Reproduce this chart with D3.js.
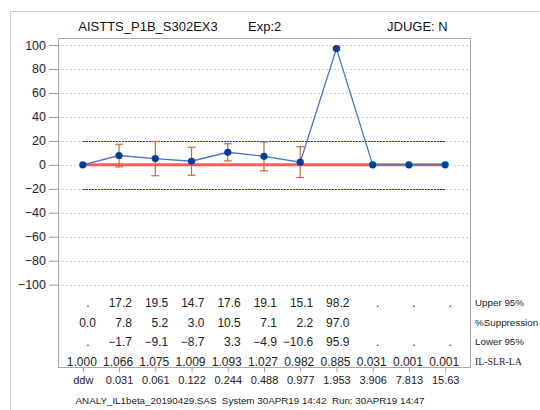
<!DOCTYPE html>
<html>
<head>
<meta charset="utf-8">
<script src="https://cdn.jsdelivr.net/npm/d3@7"></script>
<style>
  html, body { margin: 0; padding: 0; background: #fff; }
  svg { display: block; font-family: "Liberation Sans", Arial, sans-serif; }
</style>
</head>
<body>
<svg id="chart" width="540" height="410"></svg>
<script>
// categories along the x axis
const doses = ["ddw", "0.031", "0.061", "0.122", "0.244", "0.488", "0.977", "1.953", "3.906", "7.813", "15.63"];
// plotted %suppression (last three drawn on the zero line)
const suppression = [0.0, 7.8, 5.2, 3.0, 10.5, 7.1, 2.2, 97.0, 0, 0, 0];
const upper95 = [null, 17.2, 19.5, 14.7, 17.6, 19.1, 15.1, 98.2, null, null, null];
const lower95 = [null, -1.7, -9.1, -8.7, 3.3, -4.9, -10.6, 95.9, null, null, null];
// table rows as printed
const upperTxt = [".", "17.2", "19.5", "14.7", "17.6", "19.1", "15.1", "98.2", ".", ".", "."];
const suppTxt = ["0.0", "7.8", "5.2", "3.0", "10.5", "7.1", "2.2", "97.0", "", "", ""];
const lowerTxt = [".", "−1.7", "−9.1", "−8.7", "3.3", "−4.9", "−10.6", "95.9", ".", ".", "."];
const ratioTxt = ["1.000", "1.066", "1.075", "1.009", "1.093", "1.027", "0.982", "0.885", "0.031", "0.001", "0.001"];
const rowLabels = ["Upper 95%", "%Suppression", "Lower 95%", "IL-SLR-LA"];
const yTicks = [100, 80, 60, 40, 20, 0, -20, -40, -60, -80, -100];
const refLimit = 20;

const svg = d3.select("#chart");
const plot = { left: 58, right: 470, top: 38, bottom: 367 };

// outer frame (only left/top visible)
svg.append("line").attr("x1", 10.5).attr("x2", 540).attr("y1", 11.5).attr("y2", 11.5)
  .attr("stroke", "#d0d0d0");
svg.append("line").attr("x1", 10.5).attr("x2", 10.5).attr("y1", 11.5).attr("y2", 410)
  .attr("stroke", "#d0d0d0");

const x = d3.scalePoint().domain(doses).range([plot.left, plot.right]).padding(0.685);
const y = d3.scaleLinear().domain([-100, 100]).range([284.7, 45]);

// grid
svg.append("g").selectAll("line").data(yTicks).join("line")
  .attr("x1", plot.left).attr("x2", plot.right)
  .attr("y1", d => Math.round(y(d)) + 0.5).attr("y2", d => Math.round(y(d)) + 0.5)
  .attr("stroke", "#cccccc").attr("stroke-dasharray", "2,2");

// y axis
const yAxis = svg.append("g").attr("transform", `translate(${plot.left},0)`)
  .call(d3.axisLeft(y).tickValues(yTicks).tickSize(9).tickPadding(3));
yAxis.select(".domain").remove();
yAxis.selectAll(".tick line").attr("stroke", "#999");
yAxis.selectAll("text").attr("font-size", 12.5).attr("fill", "#222")
  .attr("font-family", "Liberation Sans, Arial, sans-serif");

// reference lines
const x0 = x(doses[0]), x1 = x(doses[doses.length - 1]);
for (const v of [refLimit, -refLimit]) {
  svg.append("line").attr("x1", x0).attr("x2", x1)
    .attr("y1", Math.round(y(v)) + 0.5).attr("y2", Math.round(y(v)) + 0.5)
    .attr("stroke", "#2020b0").attr("stroke-width", 1).attr("stroke-dasharray", "2,1");
}
svg.append("line").attr("x1", x0).attr("x2", x1).attr("y1", y(0)).attr("y2", y(0))
  .attr("stroke", "#ff4a4a").attr("stroke-width", 3).attr("opacity", 0.9);

// error bars
const eb = svg.append("g").attr("stroke", "#c0683f").attr("stroke-width", 1.2);
doses.forEach((d, i) => {
  if (upper95[i] == null) return;
  const cx = x(d);
  eb.append("line").attr("x1", cx).attr("x2", cx).attr("y1", y(upper95[i])).attr("y2", y(lower95[i]));
  eb.append("line").attr("x1", cx - 4).attr("x2", cx + 4).attr("y1", y(upper95[i])).attr("y2", y(upper95[i]));
  eb.append("line").attr("x1", cx - 4).attr("x2", cx + 4).attr("y1", y(lower95[i])).attr("y2", y(lower95[i]));
});

// series line and markers
svg.append("path").datum(suppression)
  .attr("d", d3.line().x((_, i) => x(doses[i])).y(v => y(v)))
  .attr("fill", "none").attr("stroke", "#4a72c8").attr("stroke-width", 1.3);
svg.append("g").selectAll("circle").data(suppression).join("circle")
  .attr("cx", (_, i) => x(doses[i])).attr("cy", v => y(v)).attr("r", 3.6)
  .attr("fill", "#063c9c");

// plot box
svg.append("rect").attr("x", plot.left + 0.5).attr("y", plot.top + 0.5)
  .attr("width", plot.right - plot.left).attr("height", plot.bottom - plot.top)
  .attr("fill", "none").attr("stroke", "#a8a8a8");

// x axis (ticks + labels below box)
const xAxis = svg.append("g").attr("transform", `translate(0,${plot.bottom + 0.5})`)
  .call(d3.axisBottom(x).tickSize(5).tickPadding(4));
xAxis.select(".domain").remove();
xAxis.selectAll(".tick line").attr("stroke", "#aaa");
xAxis.selectAll("text").attr("font-size", 11).attr("fill", "#222")
  .attr("font-family", "Liberation Sans, Arial, sans-serif");

// table inside the plot area
const rowY = [307, 327, 346, 366];
const rows = [upperTxt, suppTxt, lowerTxt];
rows.forEach((r, ri) => {
  r.forEach((t, i) => {
    const cx = x(doses[i]);
    const isDot = t === ".";
    svg.append("text").attr("x", isDot ? cx + 5 : cx + 13).attr("y", rowY[ri])
      .attr("text-anchor", isDot ? "middle" : "end").attr("font-size", 12).attr("fill", "#222")
      .text(t);
  });
});
ratioTxt.forEach((t, i) => {
  svg.append("text").attr("x", x(doses[i]) - 1).attr("y", rowY[3])
    .attr("text-anchor", "middle").attr("font-size", 12).attr("fill", "#222").text(t);
});
rowLabels.forEach((t, i) => {
  svg.append("text").attr("x", 475).attr("y", rowY[i] - 1)
    .attr("font-size", 9.8).attr("fill", "#222")
    .attr("font-family", i === 3 ? "Liberation Serif, serif" : null)
    .text(t);
});

// header
svg.append("text").attr("x", 148).attr("y", 31).attr("text-anchor", "middle")
  .attr("font-size", 13).attr("fill", "#111").text("AISTTS_P1B_S302EX3");
svg.append("text").attr("x", 248).attr("y", 31)
  .attr("font-size", 13).attr("fill", "#111").text("Exp:2");
svg.append("text").attr("x", 387).attr("y", 31)
  .attr("font-size", 13).attr("fill", "#111").text("JDUGE: N");

// footer
svg.append("text").attr("x", 250).attr("y", 404).attr("text-anchor", "middle")
  .attr("font-size", 9.8).attr("fill", "#222")
  .style("white-space", "pre")
  .text("ANALY_IL1beta_20190429.SAS  System 30APR19 14:42  Run: 30APR19 14:47");
</script>
</body>
</html>
